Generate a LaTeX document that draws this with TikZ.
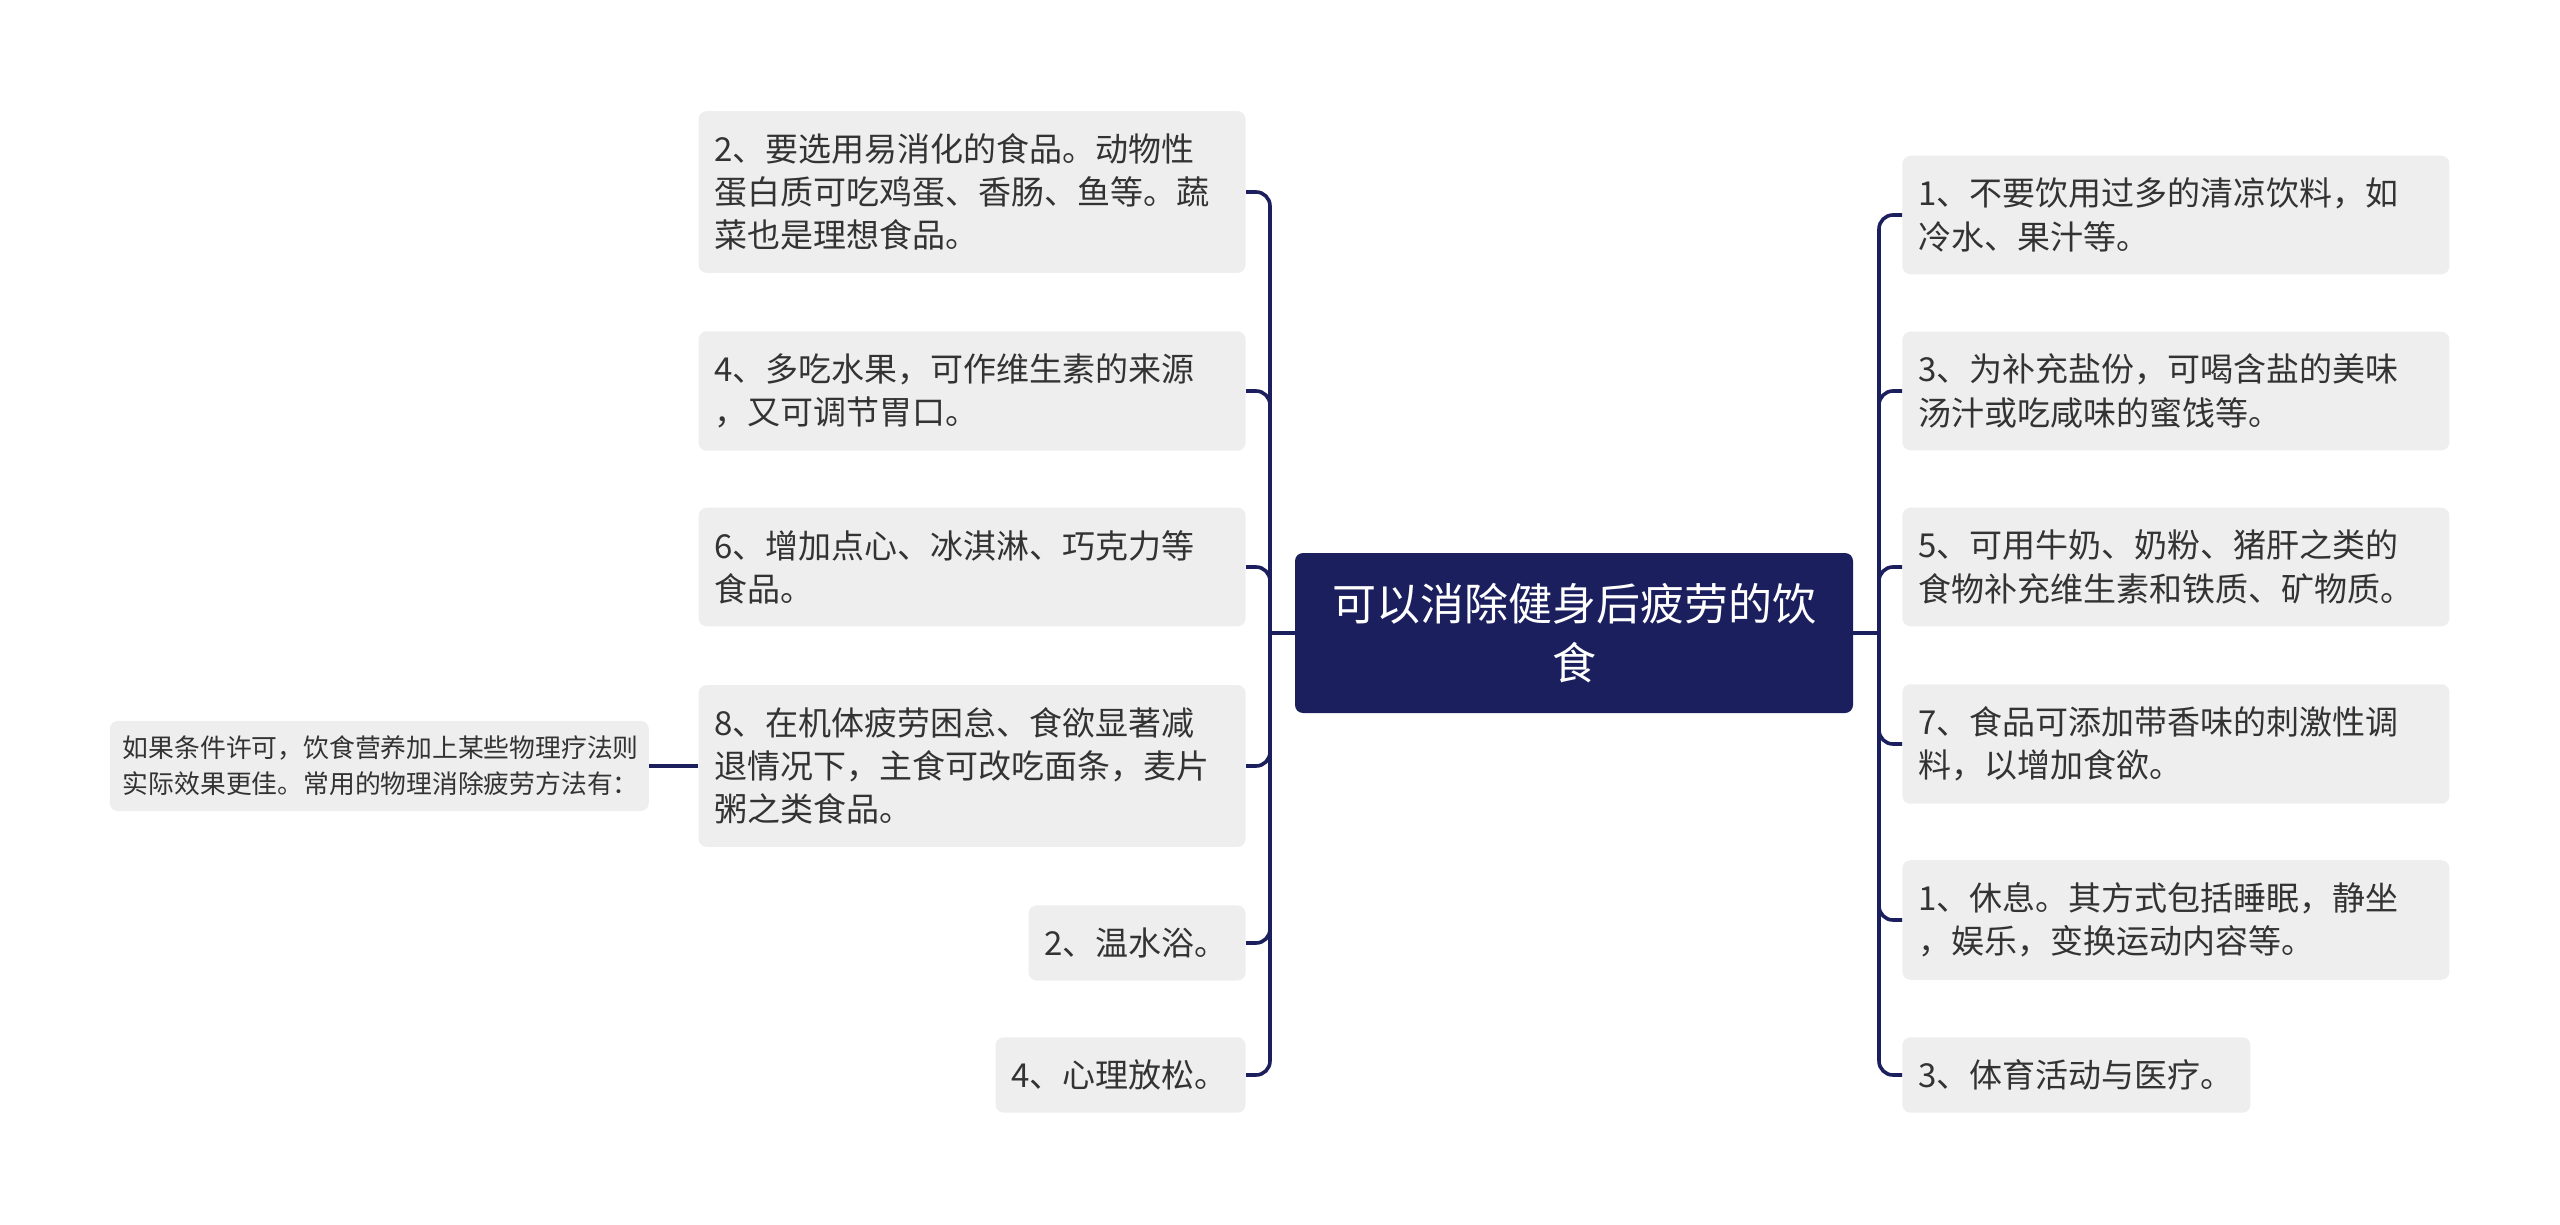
\documentclass[tikz,border=0pt]{standalone}
\usepackage{fontspec}
\setmainfont{Noto Sans CJK SC}
\usepackage{tikz}
\usetikzlibrary{positioning}
\definecolor{navy}{HTML}{1B1F5E}
\definecolor{leafgray}{HTML}{EEEEEE}
\definecolor{inkgray}{HTML}{333333}

\begin{document}
\begin{tikzpicture}[x=0.5pt, y=-0.5pt,
  root/.style={fill=navy, rounded corners=4pt, text=white, align=center,
    minimum width=279pt, minimum height=80pt, inner sep=6pt,
    font=\fontsize{22pt}{29.5pt}\selectfont},
  leaf/.style={fill=leafgray, rounded corners=4pt, text=inkgray, align=left,
    inner xsep=8pt, inner ysep=11.2pt, font=\fontsize{16.5pt}{21.6pt}\selectfont},
  note/.style={fill=leafgray, rounded corners=4pt, text=inkgray, align=left,
    inner xsep=6.5pt, inner ysep=7.5pt, font=\fontsize{12.9pt}{18pt}\selectfont},
  branch/.style={draw=navy, line width=1.8pt, rounded corners=7pt}]
  \useasboundingbox (0,0) rectangle (2560,1225);

  % Root
  \node[root] (root) at (1574,633) {可以消除健身后疲劳的饮\\食};
  \coordinate (lspine) at (1270,633);
  \coordinate (rspine) at (1879,633);

  % Left branches
  \node[leaf, text width=257.5pt, anchor=east] (l1) at (1246,192)
    {2、要选用易消化的食品。动物性\\蛋白质可吃鸡蛋、香肠、鱼等。蔬\\菜也是理想食品。};
  \node[leaf, text width=257.5pt, anchor=east] (l2) at (1246,391)
    {4、多吃水果，可作维生素的来源\\，又可调节胃口。};
  \node[leaf, text width=257.5pt, anchor=east] (l3) at (1246,567)
    {6、增加点心、冰淇淋、巧克力等\\食品。};
  \node[leaf, text width=257.5pt, anchor=east] (l4) at (1246,766)
    {8、在机体疲劳困怠、食欲显著减\\退情况下，主食可改吃面条，麦片\\粥之类食品。};
  \node[leaf, text width=92.5pt, anchor=east] (l5) at (1246,943) {2、温水浴。};
  \node[leaf, text width=109pt, anchor=east] (l6) at (1246,1075) {4、心理放松。};
  \node[note, text width=256.5pt, left=24.5pt of l4] (tip)
    {如果条件许可，饮食营养加上某些物理疗法则\\实际效果更佳。常用的物理消除疲劳方法有：};

  % Right branches
  \node[leaf, text width=257.5pt, anchor=west] (r1) at (1902,215)
    {1、不要饮用过多的清凉饮料，如\\冷水、果汁等。};
  \node[leaf, text width=257.5pt, anchor=west] (r2) at (1902,391)
    {3、为补充盐份，可喝含盐的美味\\汤汁或吃咸味的蜜饯等。};
  \node[leaf, text width=257.5pt, anchor=west] (r3) at (1902,567)
    {5、可用牛奶、奶粉、猪肝之类的\\食物补充维生素和铁质、矿物质。};
  \node[leaf, text width=257.5pt, anchor=west] (r4) at (1902,744)
    {7、食品可添加带香味的刺激性调\\料，以增加食欲。};
  \node[leaf, text width=257.5pt, anchor=west] (r5) at (1902,920)
    {1、休息。其方式包括睡眠，静坐\\，娱乐，变换运动内容等。};
  \node[leaf, text width=158pt, anchor=west] (r6) at (1902,1075) {3、体育活动与医疗。};

  % Connectors
  \draw[branch] (root.west) -- (lspine);
  \draw[branch] (root.east) -- (rspine);
  \foreach \n in {l1,l2,l3,l4,l5,l6}
    \draw[branch] (lspine) |- (\n.east);
  \foreach \n in {r1,r2,r3,r4,r5,r6}
    \draw[branch] (rspine) |- (\n.west);
  \draw[branch] (l4.west) -- (tip.east);
\end{tikzpicture}
\end{document}
